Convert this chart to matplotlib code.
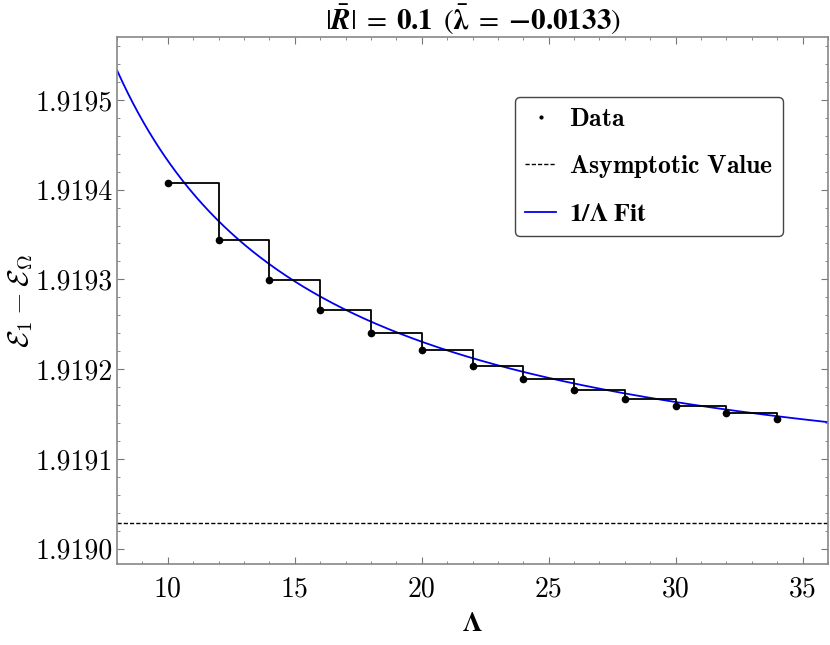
import matplotlib
matplotlib.use("Agg")
import matplotlib.pyplot as plt
from matplotlib.ticker import MultipleLocator, FormatStrFormatter
import numpy as np

plt.rcParams["font.family"] = "serif"
plt.rcParams["font.serif"] = ["cmr10", "DejaVu Serif"]
plt.rcParams["mathtext.fontset"] = "cm"
plt.rcParams["axes.unicode_minus"] = False

# data
cutoff = [10, 12, 14, 16, 18, 20, 22, 24, 26, 28, 30, 32, 34]
energy_gap = [1.919407, 1.919344, 1.919299, 1.919266, 1.919240, 1.919221,
              1.919204, 1.919189, 1.919177, 1.919167, 1.919159, 1.919151,
              1.919144]

# fit E = a + b / Lambda
fit_a = 1.919029
fit_b = 0.004032
asymptote = 1.919029

fig, ax = plt.subplots(figsize=(8.3, 6.45), dpi=100)
fig.subplots_adjust(left=0.141, right=0.9976, top=0.9426, bottom=0.1256)

lam = np.linspace(8, 36, 400)
ax.plot(lam, fit_a + fit_b / lam, color="#0000ee", lw=1.3, zorder=2)
ax.axhline(asymptote, color="black", ls=(0, (3, 1.5)), lw=1.0, zorder=2)
ax.plot(cutoff, energy_gap, drawstyle="steps-post", color="black", lw=1.3, zorder=3)
ax.plot(cutoff, energy_gap, "o", color="black", ms=4.5, zorder=4)

# legend proxies
h_data, = ax.plot([], [], ".", color="black", ms=4)
h_asym, = ax.plot([], [], color="black", ls=(0, (3, 1.5)), lw=1.0)
h_fit, = ax.plot([], [], color="#0000ee", lw=1.3)
leg = ax.legend([h_data, h_asym, h_fit],
                [r"$\mathbf{Data}$", r"$\mathbf{Asymptotic\ Value}$",
                 r"$\mathbf{1/\Lambda\ Fit}$"],
                loc="upper right", bbox_to_anchor=(0.937, 0.886), fontsize=18.5,
                handlelength=1.2, handletextpad=0.5, labelspacing=0.85,
                borderpad=0.4, borderaxespad=0, fancybox=True, framealpha=1,
                edgecolor="#444444")
leg.get_frame().set_linewidth(1.0)
leg.get_texts()[2].set_text(r"$\mathbf{1/}\boldsymbol{\Lambda}\ \mathbf{Fit}$")
leg.get_texts()[2].set_math_fontfamily("stix")

ax.set_xlim(8, 36)
ax.set_ylim(1.918983, 1.919570)
ax.xaxis.set_major_locator(MultipleLocator(5))
ax.xaxis.set_minor_locator(MultipleLocator(1))
ax.yaxis.set_major_locator(MultipleLocator(0.0001))
ax.yaxis.set_minor_locator(MultipleLocator(0.00002))
ax.yaxis.set_major_formatter(FormatStrFormatter("%.4f"))
ax.tick_params(which="both", direction="in", top=True, right=True, color="#777777")
ax.tick_params(which="major", length=5, labelsize=20)
ax.tick_params(axis="x", which="major", pad=9)
ax.tick_params(axis="y", which="major", pad=3)
ax.tick_params(which="minor", length=2.5)
for s in ax.spines.values():
    s.set_color("#888888")
    s.set_linewidth(1.2)

ax.set_xlabel(r"$\boldsymbol{\Lambda}$", fontsize=20, labelpad=6, math_fontfamily="stix")
ax.set_ylabel(r"$\mathcal{E}_1 - \mathcal{E}_\Omega$", fontsize=21)
ax.yaxis.set_label_coords(-0.116, 0.5)
ax.set_title(r"$|\bar{\mathbfit{R}}|\;=\;\mathbf{0.1}\ \,(\bar{\boldsymbol{\lambda}}\;=\;\mathbf{-0.0133})$",
             fontsize=21, pad=4, math_fontfamily="stix")

fig.savefig("out.png", dpi=100)
